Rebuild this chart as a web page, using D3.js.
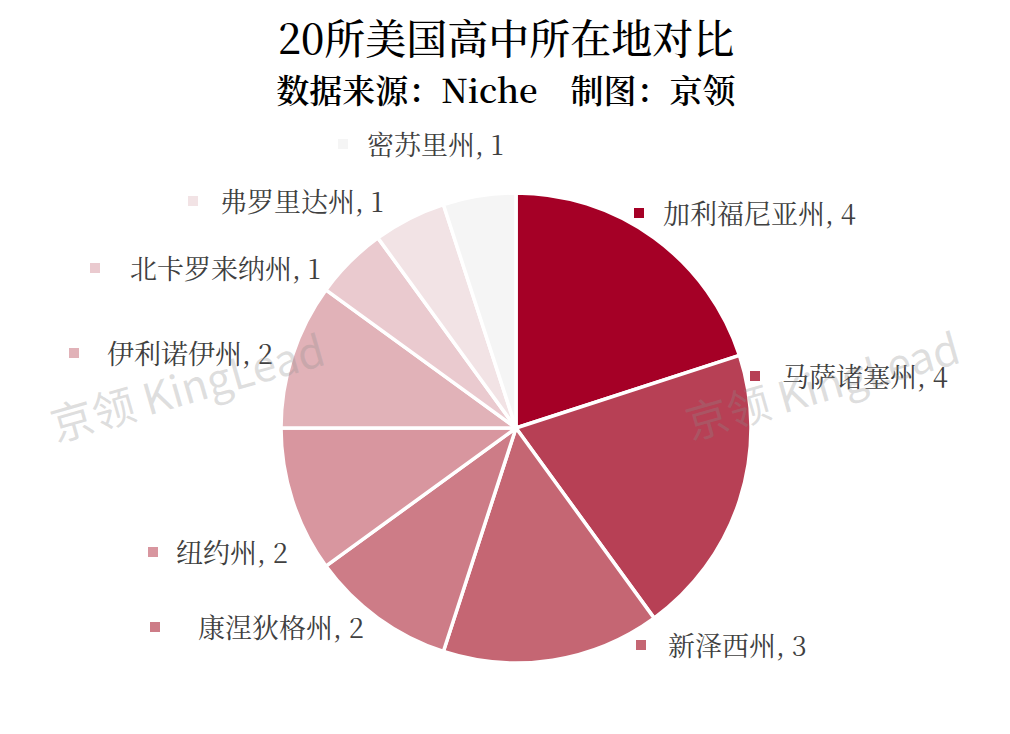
<!DOCTYPE html>
<html>
<head>
<meta charset="utf-8">
<script src="https://cdn.jsdelivr.net/npm/d3@7/dist/d3.min.js"></script>
<style>
html,body{margin:0;padding:0;background:#fff;}
svg{display:block;}
</style>
</head>
<body>
<svg id="chart" width="1010" height="734"></svg>
<script>
const states = ["加利福尼亚州","马萨诸塞州","新泽西州","康涅狄格州","纽约州","伊利诺伊州","北卡罗来纳州","弗罗里达州","密苏里州"];
const counts = [4,4,3,2,2,2,1,1,1];
const sliceColors = ["#A50026","#B74055","#C56673","#CD7C87","#D8969F","#E1B2B8","#EACACF","#F2E3E5","#F5F5F5"];
// label layout: marker left x, text left x, center y
const labelLayout = [
  [634,663,212],[750,782,375],[636,668,644],[150,198,626],[148,176,551],
  [69,107,352],[90,130,267],[188,220,200],[338,367,143]
];
const title = "20所美国高中所在地对比";
const subtitle = "数据来源：Niche　制图：京领";
const watermark = "京领 KingLead";

const svg = d3.select("#chart");
const cx = 516, cy = 428, R = 235;

const pie = d3.pie().value(d => d).sort(null);
const arc = d3.arc().innerRadius(0).outerRadius(R);
const color = d3.scaleOrdinal().domain(states).range(sliceColors);

const g = svg.append("g").attr("transform", `translate(${cx},${cy})`);
g.selectAll("path").data(pie(counts)).join("path")
  .attr("d", arc)
  .attr("fill", (d,i) => color(states[i]))
  .attr("stroke", "#fff")
  .attr("stroke-width", 3.5)
  .attr("stroke-linejoin", "round");

const serif = "'Noto Serif CJK SC','Source Han Serif SC','Liberation Serif','Noto Sans CJK SC',serif";

svg.append("text").attr("x", 506).attr("y", 36)
  .attr("text-anchor","middle").attr("dominant-baseline","central")
  .attr("font-family", serif).attr("font-size", 41).attr("font-weight", 500).attr("fill","#000")
  .text(title);
svg.append("text").attr("x", 506).attr("y", 88)
  .attr("text-anchor","middle").attr("dominant-baseline","central")
  .attr("font-family", serif).attr("font-size", 33).attr("font-weight", 600).attr("fill","#000")
  .text(subtitle);

const lab = svg.append("g");
states.forEach((s,i) => {
  const [mx, tx, y] = labelLayout[i];
  lab.append("rect").attr("x", mx).attr("y", y-4).attr("width", 10).attr("height", 10)
    .attr("fill", color(s));
  lab.append("text").attr("x", tx).attr("y", y)
    .attr("dominant-baseline","central")
    .attr("font-family", serif).attr("font-size", 27).attr("fill","#404040")
    .text(`${s}, ${counts[i]}`);
});

[[56,442],[691,440]].forEach(([x,y]) => {
  svg.append("text").attr("x", x).attr("y", y)
    .attr("transform", `rotate(-16,${x},${y})`)
    .attr("font-family","'Noto Sans CJK SC','Noto Sans',sans-serif")
    .attr("font-size", 43).attr("fill","#8c8c8c").attr("fill-opacity",0.28)
    .text(watermark);
});
</script>
</body>
</html>
